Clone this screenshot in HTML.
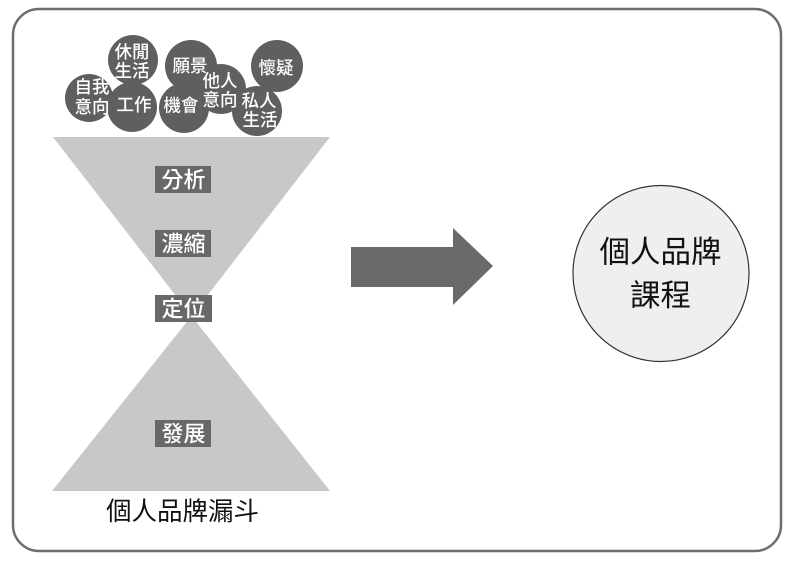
<!DOCTYPE html>
<html>
<head>
<meta charset="utf-8">
<style>
  html, body { margin: 0; padding: 0; background: #ffffff; }
  body { width: 792px; height: 563px; overflow: hidden; }
  svg { display: block; }
  text { font-family: "Liberation Sans", "Noto Sans CJK TC", "Noto Sans CJK SC", sans-serif; }
</style>
</head>
<body>
<svg width="792" height="563" viewBox="0 0 792 563" xmlns="http://www.w3.org/2000/svg">
  <rect x="0" y="0" width="792" height="563" fill="#ffffff"/>
  <!-- outer border -->
  <rect x="13" y="9" width="768" height="542" rx="26" ry="26" fill="none" stroke="#6e6e6e" stroke-width="2.5"/>

  <!-- funnel -->
  <polygon points="53,137 330,137 191.5,316" fill="#c8c8c8"/>
  <polygon points="191.5,316 52,491 330,491" fill="#c8c8c8"/>

  <!-- bubbles -->
  <g fill="#5f5f5f">
    <circle cx="89" cy="98" r="24"/>
    <circle cx="133" cy="60" r="25"/>
    <circle cx="132" cy="107" r="25"/>
    <circle cx="191" cy="66" r="26"/>
    <circle cx="184" cy="108" r="25"/>
    <circle cx="221" cy="89" r="25"/>
    <circle cx="277" cy="66" r="26"/>
    <circle cx="257" cy="111" r="25"/>
  </g>
  <g fill="#ffffff" font-size="17.5" font-weight="500" text-anchor="middle" dominant-baseline="central">
    <text x="92" y="87">自我</text>
    <text x="92" y="107">意向</text>
    <text x="132" y="52">休閒</text>
    <text x="132" y="71">生活</text>
    <text x="134" y="105">工作</text>
    <text x="190" y="66">願景</text>
    <text x="181" y="105.5">機會</text>
    <text x="220" y="81">他人</text>
    <text x="220" y="100">意向</text>
    <text x="259" y="101">私人</text>
    <text x="260" y="120">生活</text>
    <text x="276" y="68">懷疑</text>
  </g>

  <!-- funnel labels -->
  <g fill="#686868">
    <rect x="155" y="166" width="56" height="27"/>
    <rect x="155" y="230" width="56" height="27"/>
    <rect x="155" y="295" width="57" height="27"/>
    <rect x="155" y="420" width="56" height="27"/>
  </g>
  <g fill="#ffffff" font-size="22" font-weight="500" text-anchor="middle" dominant-baseline="central">
    <text x="183.5" y="180">分析</text>
    <text x="183.5" y="244">濃縮</text>
    <text x="183.5" y="309">定位</text>
    <text x="183.5" y="434">發展</text>
  </g>

  <!-- caption -->
  <text x="182.5" y="512" font-size="25.5" fill="#111111" text-anchor="middle" dominant-baseline="central">個人品牌漏斗</text>

  <!-- arrow -->
  <polygon points="351,247 453,247 453,228 493,266 453,305 453,287 351,287" fill="#6a6a6a"/>

  <!-- result circle -->
  <circle cx="661" cy="273.5" r="88" fill="#efefef" stroke="#333333" stroke-width="1.2"/>
  <g fill="#111111" font-size="30.5" text-anchor="middle" dominant-baseline="central">
    <text x="660.5" y="252.5">個人品牌</text>
    <text x="660.5" y="296">課程</text>
  </g>
</svg>
</body>
</html>
